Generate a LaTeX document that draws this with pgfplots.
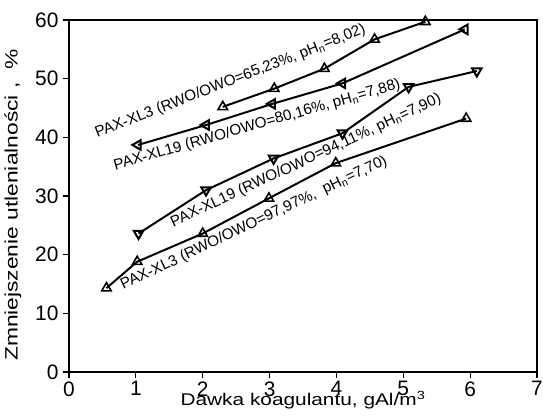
\documentclass[border=0pt]{standalone}
\usepackage{fontspec}
\setmainfont{Liberation Sans}
\newfontfamily\xlblfont[FakeStretch=1.23]{Liberation Sans}
\newfontfamily\ylblfont[FakeStretch=1.27]{Liberation Sans}
\usepackage{pgfplots}
\pgfplotsset{compat=1.18}
\begin{document}
\begin{tikzpicture}
\begin{axis}[
 scale only axis, width=468bp, height=352bp,
 xmin=0,xmax=7,ymin=0,ymax=60,
 xtick={0,...,7}, ytick={0,10,...,60},
 xtick pos=bottom, ytick pos=left,
 /pgf/number format/assume math mode=true,
 tick label style={font=\fontsize{21}{21}\selectfont},
 axis line style={line width=1.6pt},
 x tick style={line width=1.2pt, black},
 y tick style={line width=1.2pt, black},
 major tick length=6bp,
 tick align=outside,
 xticklabel style={yshift=0bp},
 yticklabel style={xshift=-1bp},
 xlabel={Dawka koagulantu, gAl/m\textsuperscript{3}},
 ylabel={Zmniejszenie utlenialności\hspace{7bp}, \hspace{6bp}\%},
 xlabel style={font=\xlblfont\fontsize{17}{17}\selectfont, at={([yshift=-34bp]axis description cs:0.5,0)}, anchor=base},
 ylabel style={font=\ylblfont\fontsize{18}{18}\selectfont, at={([xshift=-56bp,yshift=-9bp]axis description cs:0,0.5)}, anchor=center},
 every axis plot/.append style={black, line width=2pt, mark size=5.5pt, mark options={solid, fill=white, line width=1.6pt}},
 clip=false
]
% PAX-XL3 65.23%
\addplot[mark=triangle] coordinates {(2.30,45.2) (3.07,48.3) (3.82,51.7) (4.57,56.7) (5.33,59.7)};
% PAX-XL19 80.16%
\addplot[mark=triangle, mark options={rotate=90}] coordinates {(1.03,38.7) (2.05,42.1) (3.04,45.7) (4.09,49.2) (5.92,58.4)};
% PAX-XL19 94.11%
\addplot[mark=triangle, mark options={rotate=180}] coordinates {(1.04,23.6) (2.05,31.0) (3.06,36.4) (4.09,40.7) (5.08,48.6) (6.10,51.3)};
% PAX-XL3 97.97%
\addplot[mark=triangle] coordinates {(0.56,14.3) (1.02,18.8) (2.00,23.6) (2.99,29.6) (3.99,35.6) (5.94,43.2)};

\node[anchor=base west, rotate=21.3, inner sep=0pt, font=\fontsize{15.3}{15}\selectfont] at (axis cs:0.42,39.9) {PAX-XL3 (RWO/OWO=65,23\%, pH\textsubscript{n}=8,02)};
\node[anchor=base west, rotate=16, inner sep=0pt, font=\fontsize{15.3}{15}\selectfont] at (axis cs:0.69,34.4) {PAX-XL19 (RWO/OWO=80,16\%, pH\textsubscript{n}=7,88)};
\node[anchor=base west, rotate=25, inner sep=0pt, font=\fontsize{15.3}{15}\selectfont] at (axis cs:1.56,24.7) {PAX-XL19 (RWO/OWO=94,11\%, pH\textsubscript{n}=7,90)};
\node[anchor=base west, rotate=25.4, inner sep=0pt, font=\fontsize{15.3}{15}\selectfont] at (axis cs:0.81,14.0) {PAX-XL3 (RWO/OWO=97,97\%,~ pH\textsubscript{n}=7,70)};
\coordinate (tr) at (rel axis cs:1,1);
\coordinate (bl) at (rel axis cs:0,0);
\end{axis}
\pgfresetboundingbox
\path ([xshift=-69bp,yshift=-45bp]bl) rectangle ([xshift=6bp,yshift=20bp]tr);
\end{tikzpicture}
\end{document}
